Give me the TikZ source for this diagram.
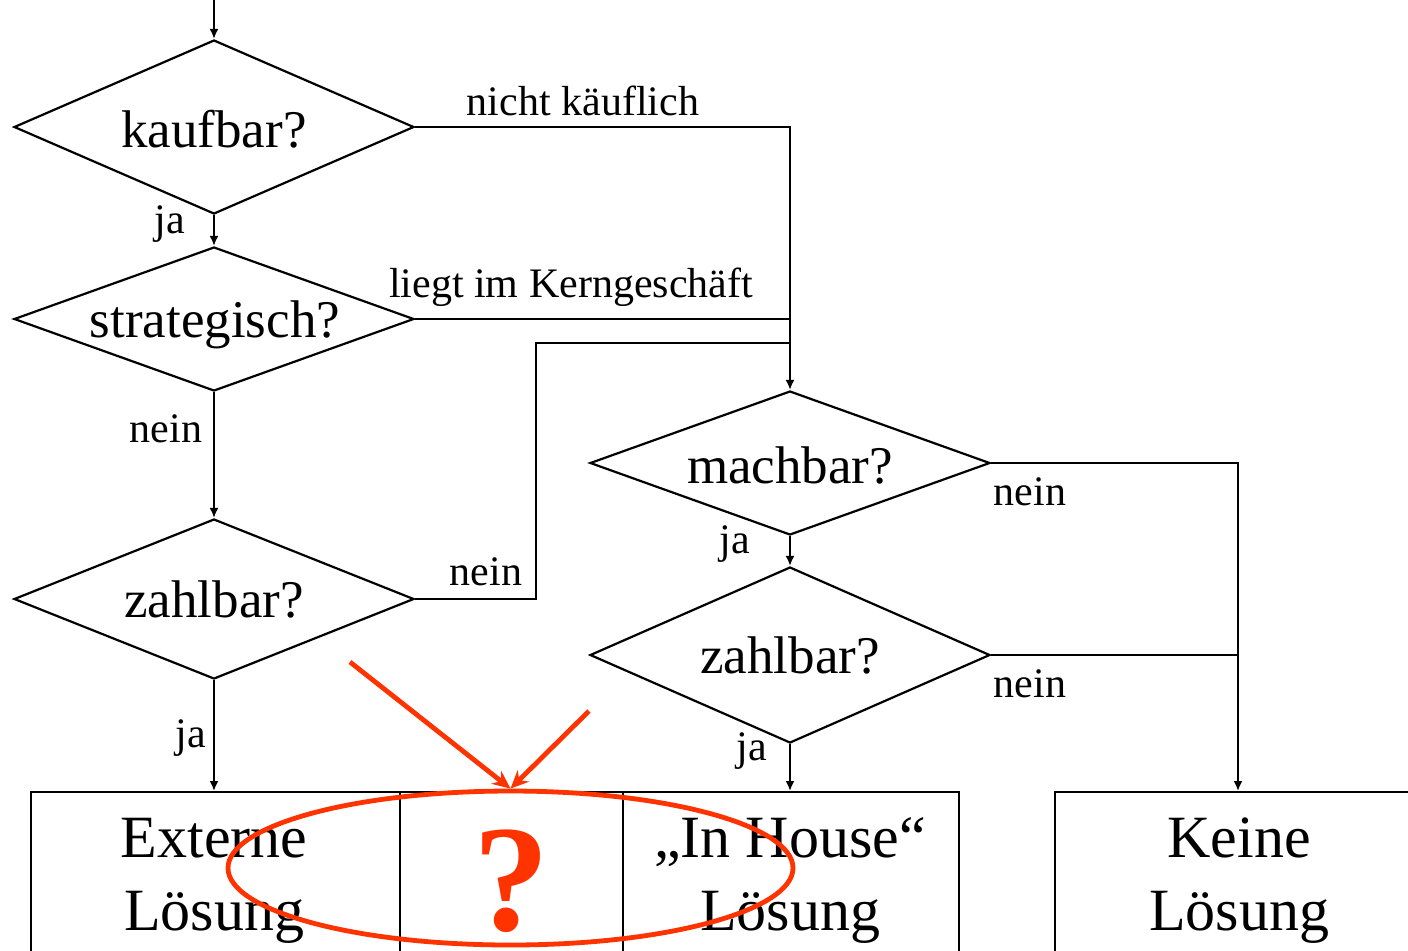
\documentclass[tikz,border=0pt]{standalone}
\usepackage{fontspec}
\setmainfont{Liberation Serif}
\usetikzlibrary{shapes.geometric,arrows.meta}
\definecolor{markred}{RGB}{255,51,0}
\tikzset{
  dia/.style={shape=diamond, draw, line width=1.1pt, inner sep=0pt},
  box/.style={shape=rectangle, draw, line width=1.1pt, inner sep=0pt},
  conn/.style={line width=1.1pt},
  arr/.style={conn, -{Latex[length=5pt,width=4.5pt]}},
  dtext/.style={anchor=base, inner sep=0pt, font=\fontsize{26.5}{30}\selectfont},
  btext/.style={anchor=base, inner sep=0pt, font=\fontsize{30}{36}\selectfont},
  ltext/.style={anchor=base, inner sep=0pt, font=\fontsize{21}{25}\selectfont},
  redline/.style={draw=markred, line width=2.4pt},
  redarr/.style={redline, -{Stealth[length=9pt,width=8pt]}}
}
\begin{document}
\begin{tikzpicture}[x=0.5pt,y=-0.5pt]
\useasboundingbox (0,0) rectangle (1408,950);
\clip (0,0) rectangle (1408,950);
% diamonds
\node[dia, minimum width=200pt, minimum height=87pt] (kauf) at (214,127) {};
\node[dia, minimum width=200pt, minimum height=72pt] (strat) at (214,319) {};
\node[dia, minimum width=200pt, minimum height=80pt] (zahl1) at (214,599) {};
\node[dia, minimum width=200pt, minimum height=72pt] (mach) at (790,463) {};
\node[dia, minimum width=200pt, minimum height=88pt] (zahl2) at (790,655) {};
% boxes
\node[box, minimum width=184.5pt, minimum height=90pt, anchor=north west] (ext) at (30,791) {};
\node[box, minimum width=111.5pt, minimum height=90pt, anchor=north west] (mid) at (399,791) {};
\node[box, minimum width=168pt, minimum height=90pt, anchor=north west] (inh) at (622,791) {};
\node[box, minimum width=185pt, minimum height=90pt, anchor=north west] (keine) at (1054,791) {};
% diamond texts
\node[dtext] (tkauf) at (214,147) {kaufbar?};
\node[dtext] (tstrat) at (215,337) {strategisch?};
\node[dtext] (tzahl1) at (214,617) {zahlbar?};
\node[dtext] (tmach) at (790,483) {machbar?};
\node[dtext] (tzahl2) at (790,673) {zahlbar?};
% box texts
\node[btext] (text1) at (214,857) {Externe};
\node[btext] (text2) at (214,930) {Lösung};
\node[btext] (tinh1) at (790,857) {„In House“};
\node[btext] (tinh2) at (790,930) {Lösung};
\node[btext] (tkeine1) at (1239,857) {Keine};
\node[btext] (tkeine2) at (1239,930) {Lösung};
% connectors
\coordinate (start) at (214,0);
\draw[arr] (start) -- (kauf.north);
\draw[arr] (kauf.south) -- (strat.north);
\draw[arr] (strat.south) -- (zahl1.north);
\draw[arr] (zahl1.south) -- (zahl1.south |- ext.north);
\draw[arr] (kauf.east) -| (mach.north);
\draw[conn] (strat.east) -- (strat.east -| mach.north);
\coordinate (jz) at (536,343);
\draw[conn] (zahl1.east) -| (jz) -- (jz -| mach.north);
\draw[arr] (mach.south) -- (zahl2.north);
\draw[arr] (zahl2.south) -- (zahl2.south |- inh.north);
\draw[arr] (mach.east) -| (1238,791);
\draw[conn] (zahl2.east) -- (1238,655);
% connector labels
\node[ltext] (lnk) at (583,115) {nicht käuflich};
\node[ltext] (lja1) at (170,233) {ja};
\node[ltext] (lkern) at (571,297) {liegt im Kerngeschäft};
\node[ltext] (lnein1) at (166,442) {nein};
\node[ltext] (lnein2) at (486,585) {nein};
\node[ltext] (lja2) at (191,747) {ja};
\node[ltext] (lnein3) at (1030,505) {nein};
\node[ltext] (lja3) at (735,553) {ja};
\node[ltext] (lnein4) at (1030,697) {nein};
\node[ltext] (lja4) at (752,760) {ja};
% red marking
\node[shape=ellipse, redline, minimum width=282.5pt, minimum height=77pt, inner sep=0pt] (ell) at (510.5,868) {};
\node[anchor=base, inner sep=0pt, text=markred, font=\bfseries\fontsize{76}{80}\selectfont] (qm) at (511,930) {?};
\coordinate (ra1) at (350,662);
\coordinate (ra2) at (589,711);
\draw[redarr] (ra1) -- (ell.north);
\draw[redarr] (ra2) -- (ell.north);
\end{tikzpicture}
\end{document}
